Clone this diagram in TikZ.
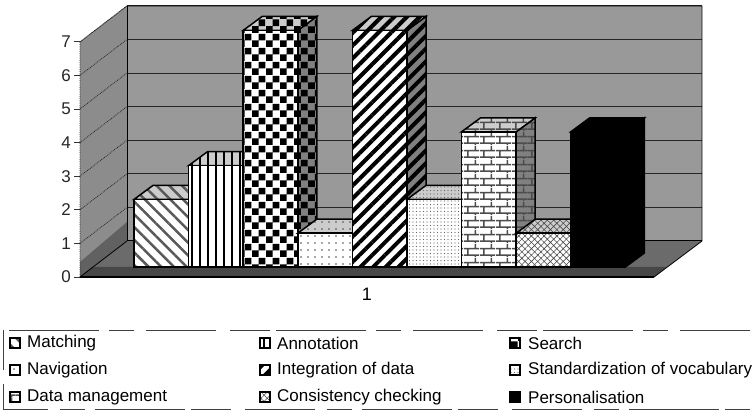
\documentclass[tikz,border=0pt]{standalone}
\usepackage{fontspec}
\setmainfont{Liberation Sans}
\usetikzlibrary{patterns,patterns.meta}

\pgfdeclarepattern{name=checkerpat, type=uncolored,
  bottom left={\pgfpoint{0pt}{0pt}}, top right={\pgfpoint{14pt}{14pt}},
  tile size={\pgfpoint{14pt}{14pt}},
  code={\pgfpathrectangle{\pgfpoint{0pt}{0pt}}{\pgfpoint{7pt}{7pt}}%
        \pgfpathrectangle{\pgfpoint{7pt}{7pt}}{\pgfpoint{7pt}{7pt}}%
        \pgfusepath{fill}}}
\pgfdeclarepattern{name=brickpat, type=uncolored,
  bottom left={\pgfpoint{0pt}{0pt}}, top right={\pgfpoint{16pt}{14pt}},
  tile size={\pgfpoint{16pt}{14pt}},
  code={\pgfsetlinewidth{1.6pt}%
        \pgfpathmoveto{\pgfpoint{0pt}{2pt}}\pgfpathlineto{\pgfpoint{16pt}{2pt}}%
        \pgfpathmoveto{\pgfpoint{0pt}{9pt}}\pgfpathlineto{\pgfpoint{16pt}{9pt}}%
        \pgfpathmoveto{\pgfpoint{4pt}{2pt}}\pgfpathlineto{\pgfpoint{4pt}{9pt}}%
        \pgfpathmoveto{\pgfpoint{12pt}{9pt}}\pgfpathlineto{\pgfpoint{12pt}{14pt}}%
        \pgfpathmoveto{\pgfpoint{12pt}{0pt}}\pgfpathlineto{\pgfpoint{12pt}{2pt}}%
        \pgfusepath{stroke}}}

\tikzset{
  sA/.style={pattern={Lines[angle=-45,distance=9pt,line width=2.5pt]}, pattern color=black!65},
  sB/.style={pattern={Lines[angle=90,distance=8pt,line width=2.6pt]}, pattern color=black},
  sC/.style={pattern=checkerpat, pattern color=black},
  sD/.style={pattern={Dots[distance=7pt,radius=0.8pt]}, pattern color=black!70},
  sE/.style={pattern={Lines[angle=45,distance=9pt,line width=4pt]}, pattern color=black},
  sF/.style={pattern={Dots[distance=3.5pt,radius=0.6pt]}, pattern color=black!60},
  sG/.style={pattern=brickpat, pattern color=black!70},
  sH/.style={pattern={Hatch[angle=45,distance=4.5pt,line width=0.6pt]}, pattern color=black!70},
  sI/.style={fill=black},
  baredge/.style={draw=black, line width=1.5pt, line join=miter},
  grid/.style={draw=black!85, line width=0.8pt},
  axlab/.style={font=\fontsize{17pt}{18pt}\selectfont, text=black!85},
  legtext/.style={font=\fontsize{17pt}{18pt}\selectfont, anchor=west, inner sep=0pt},
  legmark/.style={draw=black, line width=1.6pt, minimum size=10pt, inner sep=0pt},
}

% \mybar{index}{value}{style}
\newcommand{\mybar}[3]{%
  \pgfmathsetmacro{\xl}{134+#1*54.6}%
  \pgfmathsetmacro{\xr}{\xl+54.6}%
  \pgfmathsetmacro{\yt}{267-#2*33.8}%
  \path[baredge, preaction={fill=black!50}, #3] (\xr,\yt) -- ++(19,-14) -- (\xr+19,253) -- (\xr,267) -- cycle;
  \path[baredge, preaction={fill=black!20}, #3] (\xl,\yt) -- ++(19,-14) -- (\xr+19,\yt-14) -- (\xr,\yt) -- cycle;
  \path[baredge, preaction={fill=white}, #3] (\xl,\yt) rectangle (\xr,267);
}

\begin{document}
\begin{tikzpicture}[x=1pt,y=-1pt]
\useasboundingbox[fill=white] (0,0) rectangle (753,411);

% walls and floor
\fill[black!40] (127,6) rectangle (702,241);
\fill[black!45] (80,42) -- (127,6) -- (127,241) -- (80,277) -- cycle;
\fill[black!62] (80,277) -- (127,241) -- (127,222) -- (80,262) -- cycle;
\fill[black!58] (80,277) -- (127,241) -- (702,241) -- (654,277) -- cycle;
\fill[black!72] (80,277) -- (92,267) -- (666,267) -- (654,277) -- cycle;

% gridlines
\foreach \v in {1,...,7}{
  \draw[grid] (127,241-33.6*\v) -- (702,241-33.6*\v);
  \draw[grid, densely dotted] (80,277-33.6*\v) -- (127,241-33.6*\v);
}
\draw[black, line width=0.8pt] (127,6) -- (702,6) -- (702,241) -- (654,277);
\draw[black, line width=1pt] (127,6) -- (127,241) -- (702,241);
\draw[black!85, line width=0.8pt, densely dotted] (80,277) -- (80,42) -- (127,6);
\draw[black, line width=1.2pt] (80,277) -- (654,277);
\draw[black, line width=0.8pt] (80,277) -- (127,241);

% axis ticks and labels
\foreach \v in {0,...,7}{
  \draw[black!80, line width=0.8pt] (74,277-33.6*\v) -- (80,277-33.6*\v);
  \node[axlab] (t\v) at (66,277-33.6*\v) {\v};
}

% bars
\mybar{0}{2}{sA}
\mybar{1}{3}{sB}
\mybar{2}{7}{sC}
\mybar{3}{1}{sD}
\mybar{4}{7}{sE}
\mybar{5}{2}{sF}
\mybar{6}{4}{sG}
\mybar{7}{1}{sH}
\mybar{8}{4}{sI}

% category label
\node[font=\fontsize{18pt}{19pt}\selectfont] (cat) at (367,294) {1};

% legend frame
\draw[black!75, line width=0.7pt, dash pattern=on 70pt off 12pt on 25pt off 10pt on 90pt off 6pt on 40pt off 14pt]
  (750,330) -- (3,330) -- (3,409) -- (750,409);

% legend entries
\node[legmark, preaction={fill=white}, sA] (m1) at (15,343) {};
\node[legtext] (l1) at (27,343) {Matching};
\node[legmark, preaction={fill=white}, sB] (m2) at (265,343) {};
\node[legtext] (l2) at (277,343) {Annotation};
\node[legmark, preaction={fill=white}, sC] (m3) at (515,343) {};
\node[legtext] (l3) at (528,343) {Search};
\node[legmark, preaction={fill=white}, sD] (m4) at (15,370) {};
\node[legtext] (l4) at (27,370) {Navigation};
\node[legmark, preaction={fill=white}, sE] (m5) at (265,370) {};
\node[legtext] (l5) at (277,370) {Integration of data};
\node[legmark, preaction={fill=white}, sF] (m6) at (515,370) {};
\node[legtext] (l6) at (528,370) {Standardization of vocabulary};
\node[legmark, preaction={fill=white}, sG] (m7) at (15,397) {};
\node[legtext] (l7) at (27,397) {Data management};
\node[legmark, preaction={fill=white}, sH] (m8) at (265,397) {};
\node[legtext] (l8) at (277,397) {Consistency checking};
\node[legmark, sI] (m9) at (515,397) {};
\node[legtext] (l9) at (528,397) {Personalisation};
\end{tikzpicture}
\end{document}
